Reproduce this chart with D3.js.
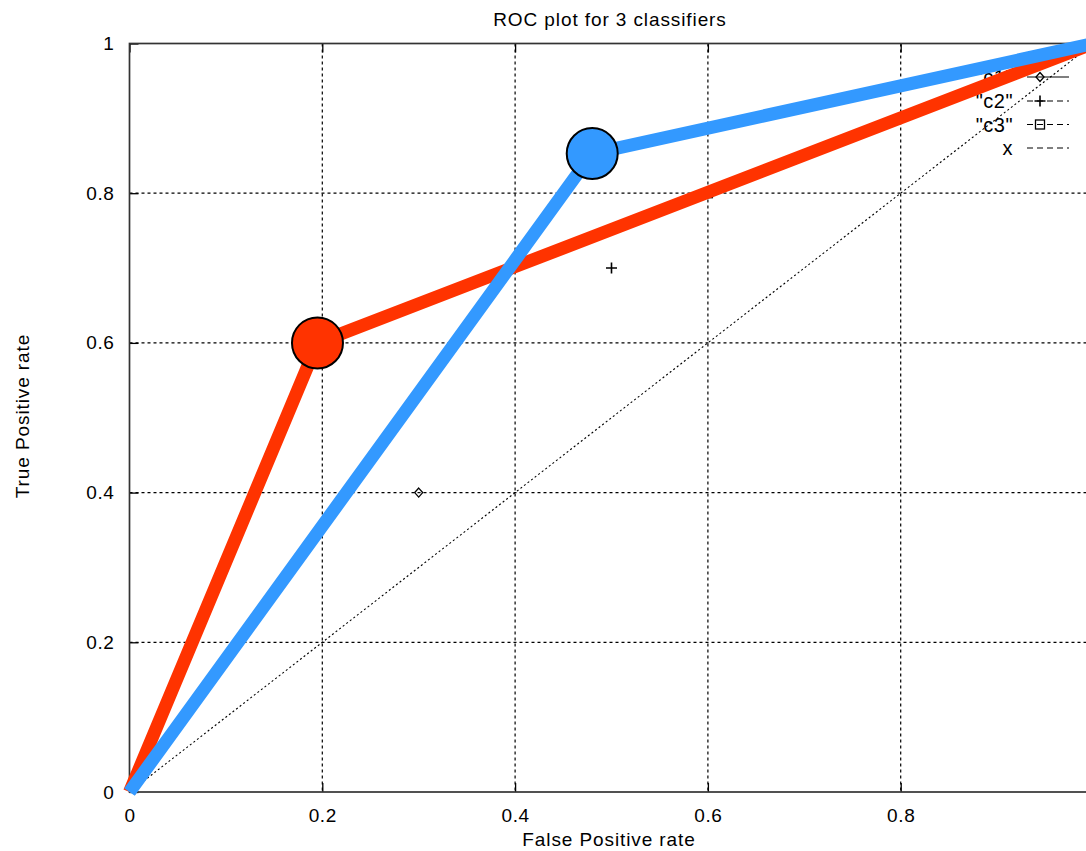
<!DOCTYPE html>
<html>
<head>
<meta charset="utf-8">
<script src="https://cdn.jsdelivr.net/npm/d3@7"></script>
<style>
  html, body { margin: 0; padding: 0; background: #fff; }
  svg { display: block; }
  text { font-family: "Liberation Sans", Arial, sans-serif; fill: #000; }
</style>
</head>
<body>
<svg id="chart" width="1086" height="851"></svg>
<script>
// Axis ticks
const xTicks = [0, 0.2, 0.4, 0.6, 0.8, 1];
const yTicks = [0, 0.2, 0.4, 0.6, 0.8, 1];

// Individual classifier operating points (FPR, TPR)
const pointNames = ['"c1"', '"c2"', '"c3"'];
const pointFpr = [0.3, 0.5, 0.6];
const pointTpr = [0.4, 0.7, 0.8];
const pointShapes = ["diamond", "plus", "square"];

// Random-guess diagonal
const diagFpr = [0, 1];
const diagTpr = [0, 1];

// Two ROC curves with one highlighted operating point each
const redFpr = [0, 0.195, 1];
const redTpr = [0, 0.6, 1];
const redMarker = 1;
const blueFpr = [0, 0.48, 1];
const blueTpr = [0, 0.853, 1];
const blueMarker = 1;

// Key entries
const keyLabels = ['"c1"', '"c2"', '"c3"', "x"];
const keyShapes = ["diamond", "plus", "square", null];
const keyDash = [null, "6,4", "6,4", "6,4"];

const svg = d3.select("#chart");
const mLeft = 129.5, mRight = 1093.5, mTop = 43.5, mBottom = 792;

const x = d3.scaleLinear().domain([0, 1]).range([mLeft, mRight]);
const y = d3.scaleLinear().domain([0, 1]).range([mBottom, mTop]);
const fmt = d3.format("~g");

// Dotted grid
const grid = svg.append("g")
  .attr("stroke", "#000").attr("stroke-width", 1.2).attr("stroke-dasharray", "3,3");
grid.selectAll("line.gx").data(xTicks.slice(1, -1)).join("line")
  .attr("x1", d => x(d)).attr("x2", d => x(d)).attr("y1", mTop).attr("y2", mBottom);
grid.selectAll("line.gy").data(yTicks.slice(1, -1)).join("line")
  .attr("x1", mLeft).attr("x2", mRight).attr("y1", d => y(d)).attr("y2", d => y(d));

// Axes with inward ticks
function styleAxis(g) {
  g.select(".domain").remove();
  g.selectAll(".tick line").attr("stroke", "#000").attr("stroke-width", 1.3);
  g.selectAll(".tick text").attr("font-size", 19).attr("letter-spacing", 0.6)
    .attr("font-family", "Liberation Sans, Arial, sans-serif");
}
svg.append("g").attr("transform", `translate(0,${mBottom})`)
  .call(d3.axisBottom(x).tickValues(xTicks).tickFormat(fmt).tickSizeInner(-9).tickSizeOuter(0).tickPadding(17))
  .call(styleAxis);
svg.append("g").attr("transform", `translate(${mLeft},0)`)
  .call(d3.axisLeft(y).tickValues(yTicks).tickFormat(fmt).tickSizeInner(-9).tickSizeOuter(0).tickPadding(15))
  .call(styleAxis);
svg.append("g").attr("transform", `translate(0,${mTop})`)
  .call(d3.axisTop(x).tickValues(xTicks).tickFormat("").tickSizeInner(-9).tickSizeOuter(0))
  .call(styleAxis);

// Plot frame
svg.append("rect")
  .attr("x", mLeft).attr("y", mTop).attr("width", mRight - mLeft).attr("height", mBottom - mTop)
  .attr("fill", "none").attr("stroke", "#333").attr("stroke-width", 1.7);

// Marker shapes
function marker(g, shape, cx, cy) {
  if (shape === "diamond") {
    g.append("path").attr("d", `M${cx},${cy - 4.5}L${cx + 4},${cy}L${cx},${cy + 4.5}L${cx - 4},${cy}Z`)
      .attr("fill", "none").attr("stroke", "#000").attr("stroke-width", 1.3);
  } else if (shape === "plus") {
    g.append("path").attr("d", `M${cx - 5.5},${cy}H${cx + 5.5}M${cx},${cy - 5.5}V${cy + 5.5}`)
      .attr("fill", "none").attr("stroke", "#000").attr("stroke-width", 1.6);
  } else if (shape === "square") {
    g.append("rect").attr("x", cx - 4.5).attr("y", cy - 4.5).attr("width", 9).attr("height", 9)
      .attr("fill", "none").attr("stroke", "#000").attr("stroke-width", 1.3);
  }
}

// Classifier points
const pts = svg.append("g");
pointFpr.forEach((f, i) => marker(pts, pointShapes[i], x(f), y(pointTpr[i])));

// Diagonal
svg.append("path")
  .datum(diagFpr.map((f, i) => [f, diagTpr[i]]))
  .attr("d", d3.line().x(d => x(d[0])).y(d => y(d[1])))
  .attr("fill", "none").attr("stroke", "#000").attr("stroke-width", 1.1)
  .attr("stroke-dasharray", "2,2.5");

// Key
const key = svg.append("g");
const keyRowY = [77, 101, 124.5, 148];
keyLabels.forEach((lab, i) => {
  const cy = keyRowY[i];
  key.append("text").attr("x", 1013).attr("y", cy + 7).attr("text-anchor", "end")
    .attr("font-size", 20).attr("letter-spacing", 0.5).text(lab);
  key.append("line").attr("x1", 1027).attr("x2", 1069).attr("y1", cy).attr("y2", cy)
    .attr("stroke", "#000").attr("stroke-width", 1.2)
    .attr("stroke-dasharray", keyDash[i]);
  if (keyShapes[i]) marker(key, keyShapes[i], 1040, cy);
});

// Title and axis titles
svg.append("text").attr("x", 610).attr("y", 26).attr("text-anchor", "middle")
  .attr("font-size", 19).attr("letter-spacing", 0.9).text("ROC plot for 3 classifiers");
svg.append("text").attr("x", 609).attr("y", 846).attr("text-anchor", "middle")
  .attr("font-size", 19).attr("letter-spacing", 0.9).text("False Positive rate");
svg.append("text").attr("transform", "translate(29,416) rotate(-90)").attr("text-anchor", "middle")
  .attr("font-size", 19).attr("letter-spacing", 0.9).text("True Positive rate");

// ROC curves with highlighted operating points
const line = d3.line().x(d => x(d[0])).y(d => y(d[1]));
function curve(fpr, tpr, idx, color) {
  const data = fpr.map((f, i) => [f, tpr[i]]);
  svg.append("path").datum(data).attr("d", line)
    .attr("fill", "none").attr("stroke", color).attr("stroke-width", 13)
    .attr("stroke-linejoin", "miter").attr("stroke-linecap", "butt");
  svg.append("circle").attr("cx", x(fpr[idx])).attr("cy", y(tpr[idx])).attr("r", 25.5)
    .attr("fill", color).attr("stroke", "#000").attr("stroke-width", 2);
}
curve(redFpr, redTpr, redMarker, "#ff3300");
curve(blueFpr, blueTpr, blueMarker, "#3399ff");
</script>
</body>
</html>
